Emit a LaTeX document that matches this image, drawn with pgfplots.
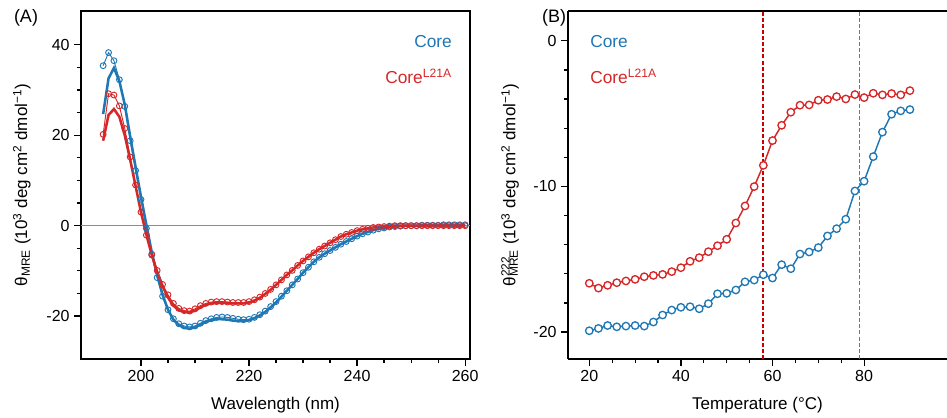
\documentclass[border=0pt]{standalone}
\usepackage{fontspec}
\setmainfont{Liberation Sans}
\usepackage{pgfplots}
\usepackage{pgfplotstable}
\pgfplotsset{compat=1.18}
\definecolor{coreblue}{HTML}{1F77B4}
\definecolor{corered}{HTML}{D62728}

% CD spectra: markers = data, fit = smoothed line
\pgfplotstableread{
wl core corefit l21a l21afit
193 35.4 24.7 20.2 18.8
194 38.3 32.6 29.2 24.5
195 36.5 34.9 28.9 25.8
196 32.3 32.0 26.5 24.1
197 26.4 26.8 21.5 20.0
198 18.8 19.8 15.2 14.6
199 12.2 13.0 9.0 8.8
200 5.8 6.4 3.0 3.0
201 -0.6 0.2 -2.1 -2.0
202 -6.5 -5.9 -6.3 -6.5
203 -11.5 -11.0 -9.9 -10.2
204 -15.6 -15.3 -13.0 -13.4
205 -18.6 -18.6 -15.3 -15.9
206 -20.6 -20.8 -17.2 -17.7
207 -21.7 -22.0 -18.3 -18.7
208 -22.2 -22.6 -18.8 -19.1
209 -22.4 -22.8 -18.9 -19.2
210 -22.2 -22.5 -18.4 -18.8
211 -21.6 -21.9 -17.7 -18.1
212 -21.0 -21.3 -17.2 -17.5
213 -20.6 -20.9 -16.9 -17.2
214 -20.3 -20.7 -16.8 -17.1
215 -20.2 -20.7 -16.8 -17.1
216 -20.3 -20.8 -16.9 -17.1
217 -20.5 -21.0 -17.0 -17.2
218 -20.7 -21.1 -17.0 -17.2
219 -20.8 -21.1 -17.0 -17.2
220 -20.7 -20.9 -16.8 -17.0
221 -20.3 -20.5 -16.4 -16.6
222 -19.7 -19.9 -15.8 -16.0
223 -18.9 -19.1 -15.0 -15.1
224 -17.9 -18.1 -14.1 -14.2
225 -16.8 -17.0 -13.1 -13.1
226 -15.6 -15.7 -12.0 -12.0
227 -14.4 -14.4 -10.9 -10.9
228 -13.1 -13.1 -9.9 -9.9
229 -11.8 -11.8 -8.8 -8.8
230 -10.4 -10.4 -7.8 -7.8
231 -9.2 -9.2 -6.9 -6.9
232 -8.0 -8.0 -6.0 -6.0
233 -7.0 -7.0 -5.2 -5.2
234 -6.2 -6.2 -4.5 -4.5
235 -5.5 -5.5 -3.8 -3.8
236 -4.8 -4.8 -3.1 -3.1
237 -4.1 -4.1 -2.4 -2.4
238 -3.5 -3.5 -1.9 -1.9
239 -2.9 -2.9 -1.5 -1.5
240 -2.3 -2.3 -1.1 -1.1
241 -1.8 -1.8 -0.8 -0.8
242 -1.4 -1.4 -0.6 -0.6
243 -1.0 -1.0 -0.4 -0.4
244 -0.7 -0.7 -0.3 -0.3
245 -0.5 -0.5 -0.2 -0.2
246 -0.3 -0.3 -0.1 -0.1
247 -0.2 -0.2 0.0 0.0
248 -0.1 -0.1 0.0 0.0
249 0.0 0.0 0.0 0.0
250 0.0 0.0 0.0 0.0
251 0.0 0.0 0.0 0.0
252 0.1 0.1 0.0 0.0
253 0.1 0.1 0.0 0.0
254 0.1 0.1 0.0 0.0
255 0.1 0.1 0.0 0.0
256 0.2 0.2 0.0 0.0
257 0.2 0.2 0.0 0.0
258 0.2 0.2 0.0 0.0
259 0.2 0.2 0.0 0.0
260 0.2 0.2 0.0 0.0
}\cdtable

% thermal melt at 222 nm
\pgfplotstableread{
T core l21a
20 -19.91 -16.65
22 -19.75 -16.98
24 -19.55 -16.79
26 -19.64 -16.61
28 -19.59 -16.49
30 -19.55 -16.38
32 -19.59 -16.20
34 -19.31 -16.11
36 -18.83 -16.04
38 -18.49 -15.85
40 -18.30 -15.58
42 -18.26 -15.14
44 -18.40 -14.89
46 -18.05 -14.48
48 -17.37 -14.07
50 -17.34 -13.63
52 -17.11 -12.51
54 -16.55 -11.34
56 -16.43 -10.01
58 -16.06 -8.55
60 -16.29 -6.85
62 -15.37 -5.80
64 -15.65 -4.90
66 -14.64 -4.42
68 -14.50 -4.40
70 -14.20 -4.08
72 -13.40 -4.03
74 -12.90 -3.83
76 -12.25 -3.99
78 -10.31 -3.69
80 -9.64 -3.90
82 -7.95 -3.60
84 -6.27 -3.71
86 -5.04 -3.62
88 -4.81 -3.71
90 -4.72 -3.42
}\melttable

% Tm of each protein
\pgfplotstableread{
T y
58 -21.85
58 2.05
}\tmred
\pgfplotstableread{
T y
79 -21.85
79 2.05
}\tmblue

\pgfplotsset{
  panel/.style={
    scale only axis, height=261pt,
    axis line style={line width=1.1pt},
    tick align=outside, tick pos=left,
    major tick length=5pt, minor tick length=3pt,
    every tick/.style={black, line width=0.9pt},
    tick label style={font=\fontsize{12}{14}\selectfont},
    label style={font=\fontsize{12.75}{15}\selectfont},
    /pgf/number format/assume math mode=true,
  },
}
\tikzset{tag/.style={inner sep=0pt, font=\fontsize{13}{15}\selectfont}}

\begin{document}
\begin{tikzpicture}
\useasboundingbox (0,0) rectangle (710.25pt,313.5pt);

\node[font=\fontsize{13.5}{15}\selectfont] at (19.5pt,300pt) {(A)};
\node[font=\fontsize{13.5}{15}\selectfont] at (415.5pt,300pt) {(B)};

\begin{axis}[panel,
  at={(60.75pt,44.25pt)}, anchor=south west, width=291.75pt,
  xmin=188.9, xmax=260.9, ymin=-29.5, ymax=47.5,
  xtick={200,220,240,260}, ytick={-20,0,20,40},
  minor x tick num=3, minor y tick num=3,
  xlabel={Wavelength (nm)},
  ylabel={θ\textsubscript{MRE} (10\textsuperscript{3} deg cm\textsuperscript{2} dmol\textsuperscript{−1})},
  xlabel style={at={(axis description cs:0.5,-0.132)}, anchor=center},
  ylabel style={at={(axis description cs:-0.152,0.5)}, anchor=center},
]
\addplot[black!45, line width=0.8pt, forget plot] coordinates {(188.9,0) (260.9,0)};
\addplot[coreblue, line width=1.9pt] table[x=wl, y=corefit]{\cdtable};
\addplot[coreblue, line width=0.7pt, mark=o, mark size=2.2pt, mark options={line width=0.7pt}] table[x=wl, y=core]{\cdtable};
\addplot[corered, line width=1.9pt] table[x=wl, y=l21afit]{\cdtable};
\addplot[corered, line width=0.7pt, mark=o, mark size=2.2pt, mark options={line width=0.7pt}] table[x=wl, y=l21a]{\cdtable};
\node[tag, text=coreblue, anchor=east] at (rel axis cs:0.954,0.912) {Core};
\node[tag, text=corered, anchor=east] at (rel axis cs:0.954,0.813) {Core\textsuperscript{L21A}};
\end{axis}

\begin{axis}[panel,
  at={(426pt,44.25pt)}, anchor=south west, width=284.25pt,
  axis x line*=box, axis y line*=left,
  xmin=15.35, xmax=98.1, ymin=-21.85, ymax=2.05,
  xtick={20,40,60,80}, ytick={-20,-10,0},
  minor x tick num=3, minor y tick num=4,
  xlabel={Temperature (°C)},
  ylabel={θ\makebox[0pt][l]{\textsuperscript{222}}\textsubscript{MRE} (10\textsuperscript{3} deg cm\textsuperscript{2} dmol\textsuperscript{−1})},
  xlabel style={at={(axis description cs:0.5,-0.132)}, anchor=center},
  ylabel style={at={(axis description cs:-0.153,0.5)}, anchor=center},
]
\addplot[coreblue, line width=1.1pt, mark=*, mark size=2.8pt, mark options={fill=white, draw=coreblue, line width=1pt}] table[x=T, y=core]{\melttable};
\addplot[red!80!black, line width=1.3pt, dash pattern=on 3pt off 1.6pt, forget plot] table[x=T, y=y]{\tmred};
\addplot[cyan!60!black, line width=1.3pt, dash pattern=on 3pt off 1.6pt, forget plot] table[x=T, y=y]{\tmblue};
\addplot[corered, line width=1.1pt, mark=*, mark size=2.8pt, mark options={fill=white, draw=corered, line width=1pt}] table[x=T, y=l21a]{\melttable};
\node[tag, text=coreblue, anchor=west] at (rel axis cs:0.058,0.912) {Core};
\node[tag, text=corered, anchor=west] at (rel axis cs:0.058,0.813) {Core\textsuperscript{L21A}};
\end{axis}
\end{tikzpicture}
\end{document}
